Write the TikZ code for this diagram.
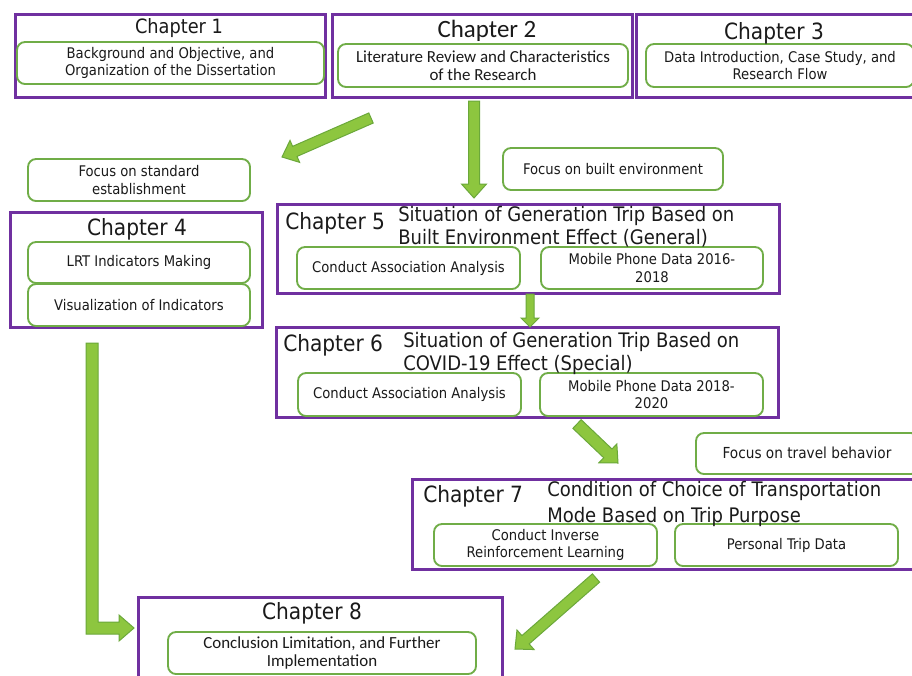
\documentclass[tikz,border=0pt]{standalone}
\usepackage{fontspec}
\setmainfont{DejaVu Sans Condensed}
\newfontfamily\calfont{Carlito}
\usetikzlibrary{calc,fit}

\definecolor{chappurple}{HTML}{7030A0}
\definecolor{boxgreen}{HTML}{70AD47}
\definecolor{arrowfill}{HTML}{8DC63F}
\definecolor{arrowline}{HTML}{6BA83A}
\definecolor{ink}{HTML}{1A1A1A}

% font sizes (picture unit: 1 unit = 0.75pt)
\newcommand\fsub{\fontsize{11pt}{13.2pt}\selectfont}
\newcommand\fchapsm{\fontsize{14.8pt}{16pt}\selectfont}
\newcommand\fchap{\fontsize{16.8pt}{18pt}\selectfont}
\newcommand\flong{\fontsize{15pt}{17.25pt}\selectfont}
\newcommand\fcalsub{\calfont\fontsize{12.7pt}{13.2pt}\selectfont}
\newcommand\fcalchap{\calfont\fontsize{18.7pt}{20pt}\selectfont}

\tikzset{
  chapframe/.style={draw=chappurple, line width=2.25pt, inner sep=0pt},
  subbox/.style={draw=boxgreen, line width=1.4pt, rounded corners=6pt,
    inner sep=0pt, fill=white},
  subtext/.style={inner sep=0pt, align=center, text=ink, font=\fsub},
  chaptitle/.style={text=ink, inner sep=0pt, font=\fchap},
  longtitle/.style={text=ink, inner sep=0pt, align=left, font=\flong},
  arrowstyle/.style={fill=arrowfill, draw=arrowline, line width=0.75pt, line join=miter},
}

% block arrow: #1 tail, #2 tip, #3 shaft width, #4 head width, #5 head length (units)
\newcommand\blockarrow[5]{%
  \pgfmathsetmacro\baS{#3*0.375}%
  \pgfmathsetmacro\baH{#4*0.375}%
  \pgfmathsetmacro\baL{#5*0.75}%
  \coordinate (ba-base) at ($(#2)!\baL pt!(#1)$);
  \filldraw[arrowstyle]
    ($(#1)!\baS pt!90:(#2)$) -- ($(ba-base)!\baS pt!90:(#2)$)
    -- ($(ba-base)!\baH pt!90:(#2)$) -- (#2)
    -- ($(ba-base)!\baH pt!-90:(#2)$) -- ($(ba-base)!\baS pt!-90:(#2)$)
    -- ($(#1)!\baS pt!-90:(#2)$) -- cycle;
}

\begin{document}
\begin{tikzpicture}[x=0.75pt, y=-0.75pt]
\fill[white] (0,0) rectangle (912,675);
\clip (0,0) rectangle (912,675);

% ---------- top row: chapters 1-3 ----------
\node[chapframe, fit={(15,14) (325,97)}] (c1) {};
\node[subbox, fit={(17,42) (324,84)}] (c1s) {};
\node[subtext] at (c1s.center) {Background and Objective, and\\Organization of the Dissertation};
\node[chaptitle, font=\fchapsm, anchor=base] (c1t) at (179,33) {Chapter 1};

\node[chapframe, fit={(332,14) (632,97)}] (c2) {};
\node[subbox, fit={(338,44) (628,87)}] (c2s) {};
\node[subtext, font=\fcalsub] at (c2s.center) {Literature Review and Characteristics\\of the Research};
\node[chaptitle, font=\fcalchap, anchor=base] (c2t) at (487,37) {Chapter 2};

\node[chapframe, fit={(636,14) (920,97)}] (c3) {};
\node[subbox, fit={(646,44) (914,87)}] (c3s) {};
\node[subtext] at (c3s.center) {Data Introduction, Case Study, and\\Research Flow};
\node[chaptitle, anchor=base] (c3t) at (774,39) {Chapter 3};

% ---------- focus notes ----------
\node[subbox, fit={(28,159) (250,201)}] (fstd) {};
\node[subtext] at (fstd.center) {Focus on standard\\establishment};
\node[subbox, fit={(503,148) (723,190)}] (fbuilt) {};
\node[subtext] at (fbuilt.center) {Focus on built environment};
\node[subbox, fit={(696,433) (919,474)}] (ftravel) {};
\node[subtext, font=\fontsize{11.4pt}{13pt}\selectfont, anchor=base] at (807,458) {Focus on travel behavior};

% ---------- chapter 4 ----------
\node[chapframe, fit={(10,212) (262,327)}] (c4) {};
\node[subbox, fit={(28,242) (250,283)}] (c4a) {};
\node[subtext] at (c4a.center) {LRT Indicators Making};
\node[subbox, fit={(28,284) (250,326)}] (c4b) {};
\node[subtext] at (c4b.center) {Visualization of Indicators};
\node[chaptitle, anchor=base] (c4t) at (137,235) {Chapter 4};

% ---------- chapter 5 ----------
\node[chapframe, fit={(277,204) (779,293)}] (c5) {};
\node[subbox, fit={(297,247) (520,289)}] (c5a) {};
\node[subtext] at (c5a.center) {Conduct Association Analysis};
\node[subbox, fit={(541,247) (763,289)}] (c5b) {};
\node[subtext] at (c5b.center) {Mobile Phone Data 2016-\\2018};
\node[chaptitle, anchor=base west] (c5t) at (285,229) {Chapter 5};
\node[longtitle, anchor=base west] (c5l) at (398,244) {Situation of Generation Trip Based on\\Built Environment Effect (General)};

% ---------- chapter 6 ----------
\node[chapframe, fit={(276,327) (778,417)}] (c6) {};
\node[subbox, fit={(298,373) (521,416)}] (c6a) {};
\node[subtext] at (c6a.center) {Conduct Association Analysis};
\node[subbox, fit={(540,373) (763,416)}] (c6b) {};
\node[subtext] at (c6b.center) {Mobile Phone Data 2018-\\2020};
\node[chaptitle, anchor=base west] (c6t) at (283,351) {Chapter 6};
\node[longtitle, anchor=base west] (c6l) at (403,370) {Situation of Generation Trip Based on\\COVID-19 Effect (Special)};

% ---------- chapter 7 ----------
\node[chapframe, fit={(412,479) (920,569)}] (c7) {};
\node[subbox, fit={(434,524) (657,566)}] (c7a) {};
\node[subtext] at (c7a.center) {Conduct Inverse\\Reinforcement Learning};
\node[subbox, fit={(675,524) (898,566)}] (c7b) {};
\node[subtext] at (c7b.center) {Personal Trip Data};
\node[chaptitle, anchor=base west] (c7t) at (423,502) {Chapter 7};
\node[longtitle, anchor=base west, font=\fontsize{15pt}{19pt}\selectfont] (c7l) at (547,522) {Condition of Choice of Transportation\\Mode Based on Trip Purpose};

% ---------- chapter 8 ----------
\node[chapframe, fit={(138,597) (502,690)}] (c8) {};
\node[chaptitle, anchor=base] (c8t) at (312,619) {Chapter 8};
\node[subbox, fit={(168,632) (476,674)}] (c8s) {};
\node[subtext, font=\fcalsub] at (c8s.center) {Conclusion Limitation, and Further\\Implementation};

% ---------- flow arrows ----------
\coordinate (a1s) at (371,118);  \coordinate (a1e) at (282,157);
\coordinate (a2s) at (474,101);  \coordinate (a2e) at (474,198);
\coordinate (a3s) at (530,294);  \coordinate (a3e) at (530,327);
\coordinate (a4s) at (577,424);  \coordinate (a4e) at (618,463);
\coordinate (a5s) at (596,578);  \coordinate (a5e) at (515,649);
\blockarrow{a1s}{a1e}{11}{24}{14}
\blockarrow{a2s}{a2e}{11}{25}{14}
\blockarrow{a3s}{a3e}{8}{18}{9}
\blockarrow{a4s}{a4e}{12}{26}{14}
\blockarrow{a5s}{a5e}{11}{26}{14}

% bent arrow from chapter 4 down to chapter 8
\coordinate (lstart) at (92,343);
\coordinate (lend) at (134,628);
\filldraw[arrowstyle]
  ($(lstart)+(-6,0)$) -- ($(lstart)+(6,0)$) -- ($(lstart |- lend)+(6,-6)$)
  -- ($(lend)+(-15,-6)$) -- ($(lend)+(-15,-13)$) -- (lend)
  -- ($(lend)+(-15,13)$) -- ($(lend)+(-15,6)$) -- ($(lstart |- lend)+(-6,6)$) -- cycle;
\end{tikzpicture}
\end{document}
